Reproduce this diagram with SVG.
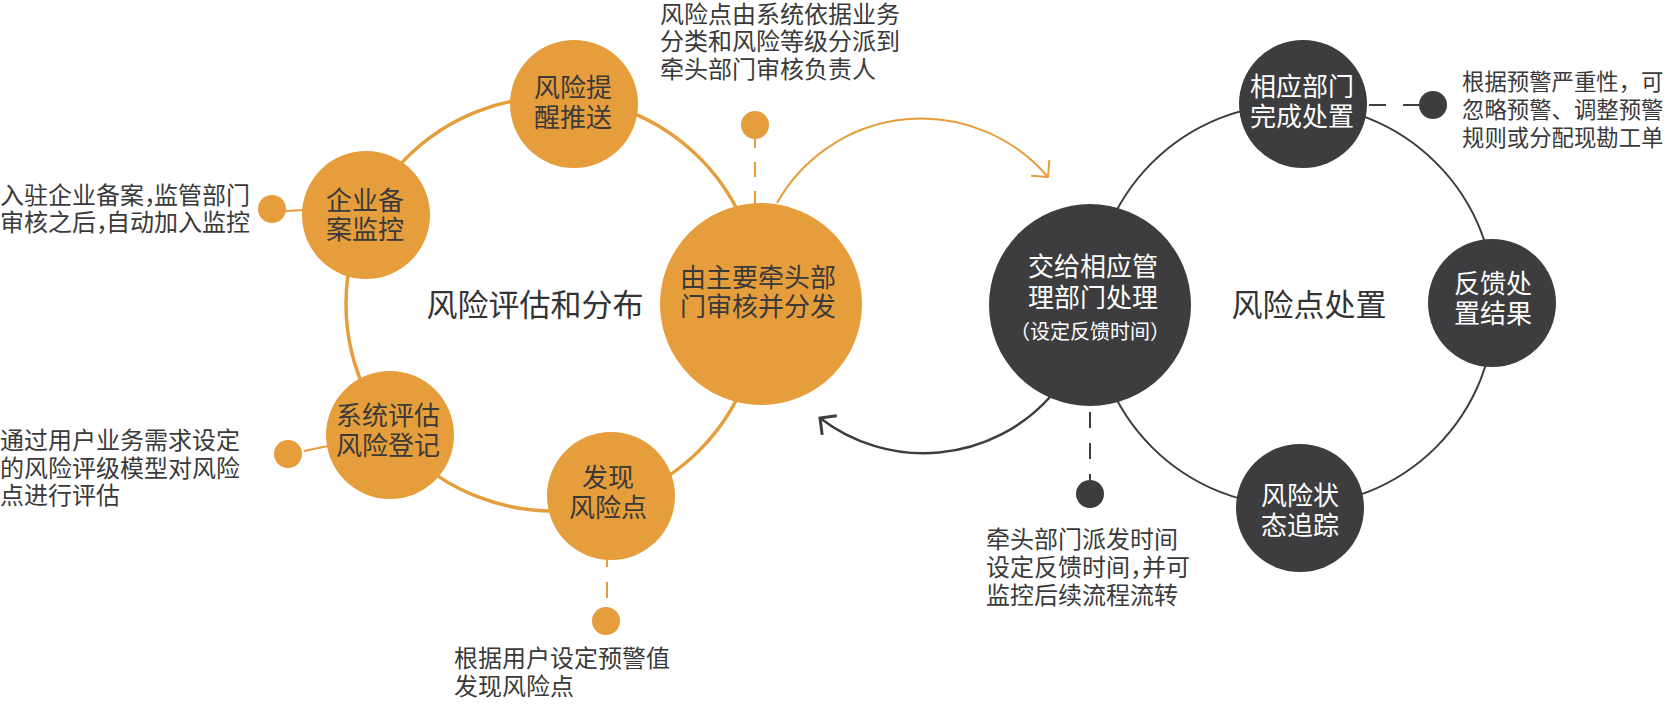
<svg xmlns="http://www.w3.org/2000/svg" width="1667" height="721" viewBox="0 0 1667 721">
<style>
text{font-family:"Noto Sans CJK SC","Noto Sans",sans-serif;}
.note{font-size:24px;fill:#3a3a3a;}
.noter{font-size:22.4px;fill:#3a3a3a;}
.nt{font-size:26px;fill:#3a3a3a;text-anchor:middle;}
.ntw{font-size:26px;fill:#ffffff;text-anchor:middle;}
.title{font-size:31px;fill:#333333;text-anchor:middle;}
.o{fill:#E69D3B;}
.d{fill:#3D3D3F;}
</style>
<defs>
<marker id="ao" markerUnits="userSpaceOnUse" markerWidth="30" markerHeight="30" viewBox="-15 -15 30 30" refX="0" refY="0" orient="auto">
<path d="M-12,-12 L0,0 L-12,12" fill="none" stroke="#E69D3B" stroke-width="2"/>
</marker>
<marker id="ad" markerUnits="userSpaceOnUse" markerWidth="30" markerHeight="30" viewBox="-15 -15 30 30" refX="0" refY="0" orient="auto">
<path d="M-12,-12 L0,0 L-12,12" fill="none" stroke="#3D3D3F" stroke-width="3"/>
</marker>
</defs>
<g id="connectors" fill="none">
<circle cx="553" cy="304" r="207" stroke="#E69D3B" stroke-width="3.5"/>
<circle cx="1294" cy="305" r="201" stroke="#3D3D3F" stroke-width="2"/>
<path d="M777,203 A166,166 0 0 1 1048,177" stroke="#E69D3B" stroke-width="2" marker-end="url(#ao)"/>
<path d="M1050,397 A170,170 0 0 1 820,418" stroke="#3D3D3F" stroke-width="2.5" marker-end="url(#ad)"/>
<line x1="755" y1="133" x2="755" y2="210" stroke="#E69D3B" stroke-width="2" stroke-dasharray="15 14"/>
<line x1="284" y1="211" x2="306" y2="210" stroke="#E69D3B" stroke-width="2"/>
<line x1="304" y1="451" x2="328" y2="446" stroke="#E69D3B" stroke-width="2"/>
<line x1="607" y1="551" x2="607" y2="607" stroke="#E69D3B" stroke-width="2" stroke-dasharray="16 15"/>
<line x1="1369" y1="105" x2="1420" y2="105" stroke="#3D3D3F" stroke-width="2" stroke-dasharray="17 17"/>
<line x1="1090" y1="412" x2="1090" y2="480" stroke="#3D3D3F" stroke-width="2" stroke-dasharray="16 15"/>
</g>
<g id="dots">
<circle class="o" cx="755" cy="125" r="14"/>
<circle class="o" cx="272" cy="209" r="14"/>
<circle class="o" cx="288" cy="454" r="14"/>
<circle class="o" cx="606" cy="621" r="14"/>
<circle class="d" cx="1433" cy="105" r="14"/>
<circle class="d" cx="1090" cy="494" r="14"/>
</g>
<g id="n-tixing">
<circle class="o" cx="574" cy="104" r="64"/>
<text class="nt" x="573" y="97">风险提</text>
<text class="nt" x="573" y="127">醒推送</text>
</g>
<g id="n-beian">
<circle class="o" cx="366" cy="215" r="64"/>
<text class="nt" x="365" y="210">企业备</text>
<text class="nt" x="365" y="239">案监控</text>
</g>
<g id="n-pinggu">
<circle class="o" cx="390" cy="435" r="64"/>
<text class="nt" x="388" y="425">系统评估</text>
<text class="nt" x="388" y="455">风险登记</text>
</g>
<g id="n-faxian">
<circle class="o" cx="611" cy="496" r="64"/>
<text class="nt" x="608" y="487">发现</text>
<text class="nt" x="608" y="517">风险点</text>
</g>
<g id="n-shenhe">
<circle class="o" cx="761" cy="304" r="101"/>
<text class="nt" x="758" y="287">由主要牵头部</text>
<text class="nt" x="758" y="316">门审核并分发</text>
</g>
<g id="n-jiaogei">
<circle class="d" cx="1090" cy="305" r="101"/>
<text class="ntw" x="1093" y="276">交给相应管</text>
<text class="ntw" x="1093" y="307">理部门处理</text>
<text x="1090" y="339" fill="#ffffff" font-size="20" text-anchor="middle">（设定反馈时间）</text>
</g>
<g id="n-wancheng">
<circle class="d" cx="1303" cy="104" r="64"/>
<text class="ntw" x="1302" y="96">相应部门</text>
<text class="ntw" x="1302" y="126">完成处置</text>
</g>
<g id="n-fankui">
<circle class="d" cx="1492" cy="303" r="64"/>
<text class="ntw" x="1493" y="293">反馈处</text>
<text class="ntw" x="1493" y="323">置结果</text>
</g>
<g id="n-zhuizong">
<circle class="d" cx="1300" cy="508" r="64"/>
<text class="ntw" x="1300" y="505">风险状</text>
<text class="ntw" x="1300" y="535">态追踪</text>
</g>
<g id="titles">
<text class="title" x="535" y="316">风险评估和分布</text>
<text class="title" x="1309" y="316">风险点处置</text>
</g>
<g id="notes">
<text class="note" x="660" y="23">风险点由系统依据业务</text>
<text class="note" x="660" y="50">分类和风险等级分派到</text>
<text class="note" x="660" y="78">牵头部门审核负责人</text>
<text class="note" x="0" y="204">入驻企业备案，<tspan dx="-14">监管部门</tspan></text>
<text class="note" x="0" y="231">审核之后，<tspan dx="-14">自动加入监控</tspan></text>
<text class="note" x="0" y="449">通过用户业务需求设定</text>
<text class="note" x="0" y="477">的风险评级模型对风险</text>
<text class="note" x="0" y="504">点进行评估</text>
<text class="note" x="454" y="667">根据用户设定预警值</text>
<text class="note" x="454" y="695">发现风险点</text>
<text class="note" x="986" y="548">牵头部门派发时间</text>
<text class="note" x="986" y="576">设定反馈时间，<tspan dx="-12">并可</tspan></text>
<text class="note" x="986" y="604">监控后续流程流转</text>
<text class="noter" x="1462" y="90">根据预警严重性，可</text>
<text class="noter" x="1462" y="118">忽略预警、调整预警</text>
<text class="noter" x="1462" y="146">规则或分配现勘工单</text>
</g>
</svg>
